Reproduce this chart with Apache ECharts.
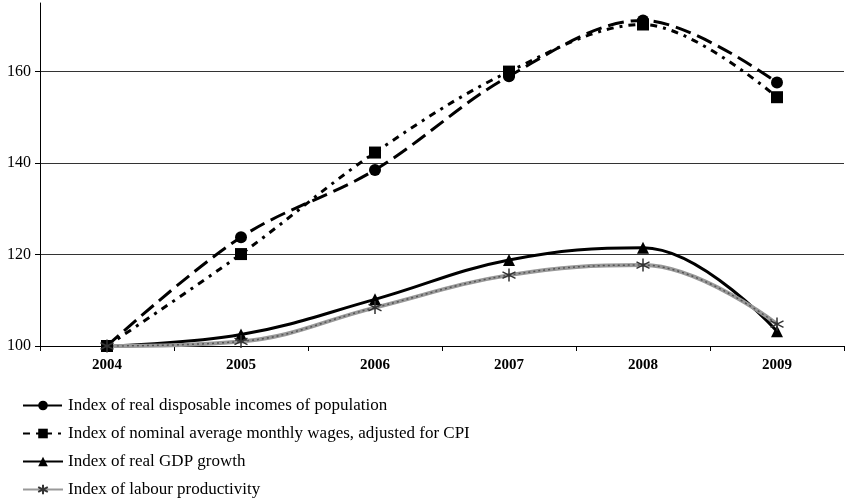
<!DOCTYPE html>
<html><head><meta charset="utf-8">
<script src="https://cdn.jsdelivr.net/npm/echarts@6/dist/echarts.min.js"></script>
<style>html,body{margin:0;padding:0;background:#fff}#c{width:845px;height:501px}</style>
</head><body><div id="c"></div>
<script>
const years = ['2004','2005','2006','2007','2008','2009'];
const incomeName = 'Index of real disposable incomes of population';
const wagesName = 'Index of nominal average monthly wages, adjusted for CPI';
const gdpName = 'Index of real GDP growth';
const prodName = 'Index of labour productivity';
const income = [100, 123.8, 138.5, 159, 171.2, 157.6];
const wages = [100, 120.1, 142.3, 160, 170.3, 154.4];
const gdp = [100, 102.5, 110.2, 118.8, 121.5, 103.2];
const prod = [100, 101, 108.4, 115.5, 117.7, 104.8];

const font = 'Liberation Serif';
const chart = echarts.init(document.getElementById('c'));
const asterisk = 'path://M0,-10L0,10M-9,-5L9,5M-9,5L9,-5';
chart.setOption({
  animation: false,
  grid: {left: 40, right: 1, top: 3, bottom: 155},
  legend: {
    orient: 'vertical', left: 22, top: 397, padding: 0, itemGap: 11, itemWidth: 40, itemHeight: 12,
    textStyle: {fontFamily: font, fontSize: 17, color: '#000'},
    data: [incomeName, wagesName, gdpName, prodName]
  },
  xAxis: {
    type: 'category', data: years, boundaryGap: true,
    axisLine: {lineStyle: {color: '#000', width: 1}},
    axisTick: {show: true, interval: 0, length: 5, lineStyle: {color: '#000'}},
    axisLabel: {fontFamily: font, fontSize: 15, fontWeight: 'bold', color: '#000', margin: 12}
  },
  yAxis: {
    type: 'value', min: 100, max: 175, interval: 20,
    axisLine: {show: true, lineStyle: {color: '#000', width: 1}},
    axisTick: {show: true, length: 5, lineStyle: {color: '#000'}},
    axisLabel: {fontFamily: font, fontSize: 16, color: '#000', margin: 9, showMaxLabel: false},
    splitLine: {show: true, showMaxLine: false, lineStyle: {color: '#333', width: 1}}
  },
  series: [
    {name: incomeName, type: 'line', data: income, smooth: 0.35,
     symbol: 'circle', symbolSize: 12,
     itemStyle: {color: '#000'},
     lineStyle: {color: '#000', width: 3, type: [16, 7]}},
    {name: wagesName, type: 'line', data: wages, smooth: 0.35,
     symbol: 'rect', symbolSize: 12,
     itemStyle: {color: '#000'},
     lineStyle: {color: '#000', width: 3, type: [7, 6, 3, 6]}},
    {name: gdpName, type: 'line', data: gdp, smooth: 0.4,
     symbol: 'triangle', symbolSize: 12,
     itemStyle: {color: '#000'},
     lineStyle: {color: '#000', width: 3}},
    {name: prodName, type: 'line', data: prod, smooth: 0.4,
     symbol: asterisk, symbolSize: 13,
     itemStyle: {color: '#444', borderColor: '#333', borderWidth: 1.5},
     lineStyle: {color: '#999', width: 4}},
    {name: 'prodPattern', type: 'line', data: prod, smooth: 0.4,
     symbol: 'none', silent: true, z: 3,
     lineStyle: {color: '#555', width: 1.5, type: [2, 3]}}
  ]
});
</script></body></html>
